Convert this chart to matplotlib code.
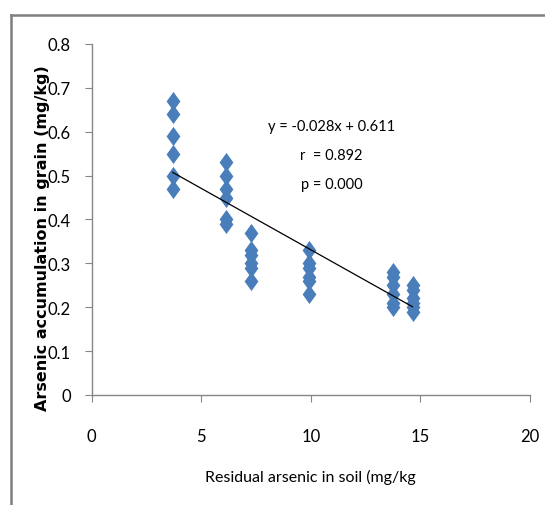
import numpy as np
import matplotlib.pyplot as plt
from matplotlib.lines import Line2D

# residual arsenic in soil (mg/kg), one column of points per soil level
soil_levels = [3.7, 6.13, 7.26, 9.9, 13.75, 14.64]
grain_as = [
    [0.67, 0.64, 0.59, 0.55, 0.50, 0.47],
    [0.53, 0.50, 0.47, 0.45, 0.40, 0.39],
    [0.37, 0.33, 0.32, 0.30, 0.29, 0.26],
    [0.33, 0.30, 0.29, 0.27, 0.26, 0.23],
    [0.28, 0.27, 0.25, 0.23, 0.21, 0.20],
    [0.25, 0.24, 0.22, 0.21, 0.20, 0.19],
]
# fitted line as printed on the chart
slope = -0.028
intercept = 0.611
stats_text = "y = -0.028x + 0.611\nr  = 0.892\np = 0.000"

x = np.repeat(soil_levels, [len(g) for g in grain_as])
y = np.concatenate(grain_as)

plt.rcParams['font.family'] = ['Lato', 'DejaVu Sans']

fig = plt.figure(figsize=(5.45, 5.06), dpi=100)
ax = fig.add_axes([0.168, 0.2174, 0.8045, 0.6937])

# diamond a bit taller than wide, like the original
diamond = [(0, 1), (0.72, 0), (0, -1), (-0.72, 0), (0, 1)]
ax.scatter(x, y, marker=diamond, s=190, color="#4A7EBB", zorder=3, linewidths=0)

# trend line
xl = np.array([min(soil_levels), max(soil_levels)])
ax.plot(xl, slope * xl + intercept, color="black", lw=0.9, zorder=4)

ax.text(10.95, 0.547, stats_text, ha="center", va="center", fontsize=10.5,
        linespacing=2.4)

ax.set_xlim(0, 20)
ax.set_ylim(0, 0.8)
ax.set_xticks([0, 5, 10, 15, 20])
ax.set_yticks(np.arange(0, 0.81, 0.1))
ax.set_yticklabels(["0"] + ["%.1f" % v for v in np.arange(0.1, 0.81, 0.1)])

for s in ["top", "right"]:
    ax.spines[s].set_visible(False)
for s in ["left", "bottom"]:
    ax.spines[s].set_color("#868686")
    ax.spines[s].set_linewidth(1.0)
ax.tick_params(colors="#868686", labelcolor="black", labelsize=12,
               direction="out", length=5)
ax.tick_params(axis="x", pad=19)
ax.tick_params(axis="y", pad=10)

ax.set_xlabel("Residual arsenic in soil (mg/kg", fontsize=11.5, labelpad=18)
ax.set_ylabel("Arsenic accumulation in grain (mg/kg)", fontsize=11.5,
              fontweight="bold", family=["DejaVu Sans"])
ax.yaxis.set_label_coords(-0.095, 0.45)

# gray frame of the chart area (top and left visible)
fig.add_artist(Line2D([0.021, 1.0], [0.969, 0.969], color="#7f7f7f", lw=1.8))
fig.add_artist(Line2D([0.021, 0.021], [0.0, 0.969], color="#7f7f7f", lw=1.8))

fig.savefig("out.png", dpi=100)
